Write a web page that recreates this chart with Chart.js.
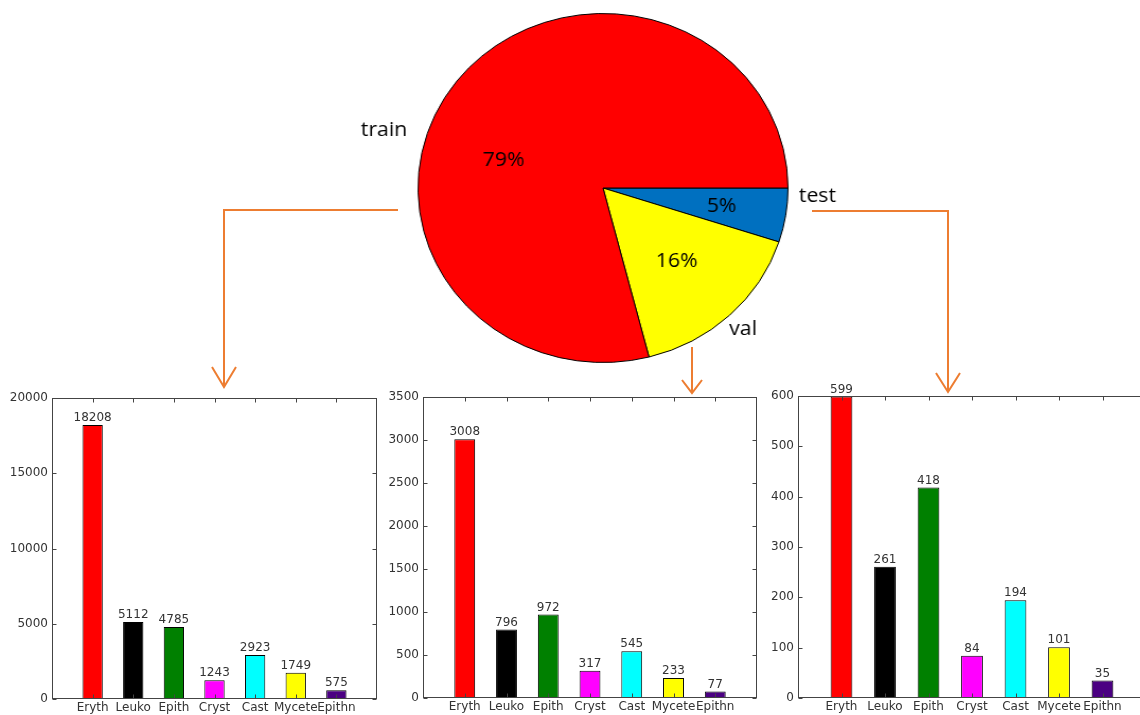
<!DOCTYPE html>
<html>
<head>
<meta charset="utf-8">
<script src="https://cdn.jsdelivr.net/npm/chart.js@4.4.1/dist/chart.umd.min.js"></script>
<style>
html, body { margin: 0; padding: 0; background: #fff; overflow: hidden; width: 1140px; height: 715px; }
.box { position: absolute; }
#pieBox { left: 330px; top: 0; width: 550px; height: 380px; transform: scaleX(1.06); transform-origin: 273px 188px; }
#trainBox { left: 0; top: 380px; width: 380px; height: 335px; }
#valBox { left: 380px; top: 380px; width: 380px; height: 335px; }
#testBox { left: 760px; top: 370px; width: 390px; height: 345px; }
#arrows { position: absolute; left: 0; top: 0; pointer-events: none; }
</style>
</head>
<body>
<div class="box" id="pieBox"><canvas id="pieChart"></canvas></div>
<div class="box" id="trainBox"><canvas id="trainChart"></canvas></div>
<div class="box" id="valBox"><canvas id="valChart"></canvas></div>
<div class="box" id="testBox"><canvas id="testChart"></canvas></div>
<svg id="arrows" width="1140" height="715">
  <g fill="none" stroke="#ED7D31" stroke-width="2">
    <polyline points="398,210 224,210 224,386" />
    <polyline points="212,367 224,387 236,367" />
    <polyline points="692,347 692,392" />
    <polyline points="682,380 692,393 702,380" />
    <polyline points="812,211 948,211 948,391" />
    <polyline points="936,373 948,392 960,373" />
  </g>
</svg>
<script>
// dataset split (pie, drawn clockwise from 3 o'clock)
const splitNames = ['test', 'val', 'train'];
const splitShares = [5, 16, 79];
const splitColors = ['#0070C0', '#FFFF00', '#FF0000'];

// per-class counts for each split
const classNames = ['Eryth', 'Leuko', 'Epith', 'Cryst', 'Cast', 'Mycete', 'Epithn'];
const classColors = ['#FF0000', '#000000', '#008000', '#FF00FF', '#00FFFF', '#FFFF00', '#4B0082'];
const trainCounts = [18208, 5112, 4785, 1243, 2923, 1749, 575];
const valCounts = [3008, 796, 972, 317, 545, 233, 77];
const testCounts = [599, 261, 418, 84, 194, 101, 35];

const pieLabels = {
  id: 'pieLabels',
  afterDatasetsDraw(chart, args, opts) {
    const ctx = chart.ctx;
    const meta = chart.getDatasetMeta(0);
    ctx.save();
    ctx.font = opts.font;
    ctx.fillStyle = '#000';
    ctx.textAlign = 'center';
    ctx.textBaseline = 'middle';
    meta.data.forEach((arc, i) => {
      const p = arc.getProps(['x', 'y', 'outerRadius'], true);
      const a1 = opts.innerAngle[i] * Math.PI / 180;
      const a2 = opts.outerAngle[i] * Math.PI / 180;
      const r1 = opts.inner[i] * p.outerRadius;
      const r2 = opts.outer[i] * p.outerRadius;
      ctx.fillText(splitShares[i] + '%', p.x + Math.cos(a1) * r1, p.y + Math.sin(a1) * r1);
      ctx.fillText(splitNames[i], p.x + Math.cos(a2) * r2, p.y + Math.sin(a2) * r2);
    });
    ctx.restore();
  }
};

new Chart(document.getElementById('pieChart'), {
  type: 'pie',
  data: {
    labels: splitNames,
    datasets: [{
      data: splitShares,
      backgroundColor: splitColors,
      borderColor: '#000',
      borderWidth: 1
    }]
  },
  options: {
    animation: false,
    responsive: true,
    maintainAspectRatio: false,
    rotation: 90,
    layout: { padding: { left: 98, right: 102, top: 13, bottom: 17 } },
    plugins: {
      legend: { display: false },
      tooltip: { enabled: false },
      pieLabels: {
        font: '20px "Open Sans"',
        inner: [0.65, 0.58, 0.56],
        innerAngle: [9.5, 46.6, 196.5],
        outer: [1.16, 1.11, 1.23],
        outerAngle: [2.3, 47, 195.7]
      }
    }
  },
  plugins: [pieLabels]
});

// axes frame with inward ticks, plus count labels above bars
const barDecor = {
  id: 'barDecor',
  afterDatasetsDraw(chart) {
    const { ctx, chartArea: a, scales: { x, y } } = chart;
    const L = Math.round(a.left) + 0.5, R = Math.round(a.right) - 0.5;
    const T = Math.round(a.top) + 0.5, B = Math.round(a.bottom) - 0.5;
    ctx.save();
    ctx.strokeStyle = '#444';
    ctx.lineWidth = 1;
    ctx.strokeRect(L, T, R - L, B - T);
    ctx.beginPath();
    y.ticks.forEach(t => {
      const py = Math.round(y.getPixelForValue(t.value)) + 0.5;
      ctx.moveTo(L, py); ctx.lineTo(L + 4, py);
      ctx.moveTo(R, py); ctx.lineTo(R - 4, py);
    });
    for (let i = 1; i <= classNames.length; i++) {
      const px = Math.round(x.getPixelForValue(i)) + 0.5;
      ctx.moveTo(px, T); ctx.lineTo(px, T + 4);
      ctx.moveTo(px, B); ctx.lineTo(px, B - 4);
    }
    ctx.stroke();

    ctx.font = '12px "DejaVu Sans"';
    ctx.fillStyle = '#333';
    ctx.textAlign = 'center';
    ctx.textBaseline = 'bottom';
    const ds = chart.data.datasets[0].data;
    chart.getDatasetMeta(0).data.forEach((bar, i) => {
      if (ds[i] == null) return;
      ctx.fillText(String(ds[i]), bar.x, bar.y - 1);
    });
    ctx.restore();
  }
};

function makeBarChart(id, counts, yMax, yStep, axisWidth, axisHeight, padTop, padRight) {
  // blank end slots give one category of space on each side
  const labels = [''].concat(classNames, ['']);
  const values = [null].concat(counts, [null]);
  const colors = ['#fff'].concat(classColors, ['#fff']);
  return new Chart(document.getElementById(id), {
    type: 'bar',
    data: {
      labels: labels,
      datasets: [{
        data: values,
        backgroundColor: colors,
        borderColor: '#000',
        borderWidth: 1,
        borderSkipped: false,
        barPercentage: 0.5,
        categoryPercentage: 1
      }]
    },
    options: {
      animation: false,
      responsive: true,
      maintainAspectRatio: false,
      layout: { padding: { top: padTop, right: padRight, left: 0, bottom: 0 } },
      plugins: { legend: { display: false }, tooltip: { enabled: false } },
      scales: {
        x: {
          offset: false,
          grid: { display: false, drawTicks: false },
          border: { display: false },
          ticks: {
            autoSkip: false, maxRotation: 0, padding: 2,
            color: '#333', font: { family: 'DejaVu Sans', size: 12 }
          },
          afterFit: s => { s.height = axisHeight; }
        },
        y: {
          min: 0, max: yMax,
          grid: { display: false, drawTicks: false },
          border: { display: false },
          ticks: {
            stepSize: yStep, padding: 4,
            color: '#333', font: { family: 'DejaVu Sans', size: 12 },
            callback: v => String(v)
          },
          afterFit: s => { s.width = axisWidth; }
        }
      }
    },
    plugins: [barDecor]
  });
}

makeBarChart('trainChart', trainCounts, 20000, 5000, 52, 16, 18, 3);
makeBarChart('valChart', valCounts, 3500, 500, 43, 17, 17, 3);
makeBarChart('testChart', testCounts, 600, 100, 38, 17, 26, 4);
</script>
</body>
</html>
